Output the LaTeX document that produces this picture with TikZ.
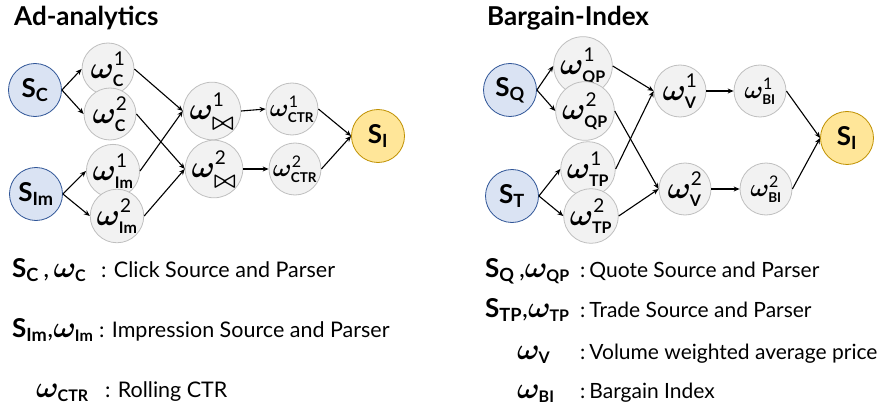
\RequirePackage{fix-cm}
\documentclass[tikz,border=0pt]{standalone}
\usepackage{amsmath}
\usepackage{amssymb}
\usepackage{bm}
\usepackage{fontspec}
\setmainfont{Lato}
\usetikzlibrary{arrows.meta, positioning}

\definecolor{srcfill}{HTML}{DAE3F3}
\definecolor{srcline}{HTML}{2F5597}
\definecolor{opfill}{HTML}{F2F2F2}
\definecolor{opline}{HTML}{BFBFBF}
\definecolor{sinkfill}{HTML}{FFE699}
\definecolor{sinkline}{HTML}{BF9000}

% node labels
\newcommand{\om}[2]{$\bm{\omega}^{\raisebox{2pt}{\fontsize{19}{19}\selectfont #1}}%
  _{\mbox{\fontsize{16}{16}\selectfont\bfseries #2}}$}
\newcommand{\oms}[2]{$\bm{\omega}^{\mbox{\fontsize{16}{16}\selectfont #1}}%
  _{\mbox{\fontsize{13.5}{14}\selectfont\bfseries #2}}$}
\newcommand{\sv}[1]{{\bfseries S}$_{\text{\bfseries #1}}$}
\newcommand{\ws}[1]{{\fontsize{30}{30}\selectfont
  $\bm{\omega}_{\mbox{\fontsize{16}{16}\selectfont\bfseries #1}}$}}
\newcommand{\btie}{\raisebox{-1.5pt}{\scalebox{1.45}{$\bm{\bowtie}$}}}

\begin{document}
\begin{tikzpicture}[x=1pt, y=-1pt,
  src/.style={circle, draw=srcline, fill=srcfill, line width=0.8pt, minimum size=53pt,
              inner sep=0pt, font=\fontsize{26}{30}\selectfont},
  op/.style={circle, draw=opline, fill=opfill, line width=0.8pt, minimum size=52pt,
             inner sep=0pt, font=\fontsize{31}{34}\selectfont},
  opsm/.style={op, font=\fontsize{25}{28}\selectfont},
  sink/.style={src, draw=sinkline, fill=sinkfill},
  arr/.style={-{Stealth[length=6pt, width=5pt]}, line width=1.1pt},
  ttl/.style={anchor=base west, inner sep=0pt, font=\fontsize{26}{30}\selectfont\bfseries},
  sym/.style={anchor=base west, inner sep=0pt, font=\fontsize{26}{30}\selectfont},
  desc/.style={anchor=base west, inner sep=0pt, font=\fontsize{21.5}{25}\selectfont},
  descr/.style={desc, font=\fontsize{21}{25}\selectfont}
]
\useasboundingbox (0,0) rectangle (883,409);

% Ad-analytics
\node[ttl] (tA) at (14,26) {Ad-analytics};
\node[src] (sC) at (35,90) {\sv{C}};
\node[src] (sIm) at (36,194) {\sv{Im}};
\node[op] (c1) at (108,69) {\om{1}{C}};
\node[op] (c2) at (110,114) {\om{2}{C}};
\node[op] (im1) at (113,171) {\om{1}{Im}};
\node[op] (im2) at (117,216) {\om{2}{Im}};
\node[op] (j1) at (212,111) {\om{1}{\btie}};
\node[op] (j2) at (214,169) {\om{2}{\btie}};
\node[opsm] (ctr1) at (292,109) {\oms{1}{CTR}};
\node[opsm] (ctr2) at (295,169) {\oms{2}{CTR}};
\node[sink] (sIA) at (378,136) {\sv{I}};

\foreach \a/\b in {sC/c1, sC/c2, sIm/im1, sIm/im2, c1/j1, im1/j1, c2/j2, im2/j2,
                   j1/ctr1, j2/ctr2, ctr1/sIA, ctr2/sIA}
  \draw[arr] (\a.east) -- (\b.west);

% Bargain-Index
\node[ttl] (tB) at (487,26) {Bargain-Index};
\node[src] (sQ) at (510,90) {\sv{Q}};
\node[src] (sT) at (512,196) {\sv{T}};
\node[op] (q1) at (583,66) {\om{1}{QP}};
\node[op] (q2) at (585,111) {\om{2}{QP}};
\node[op] (t1) at (588,169) {\om{1}{TP}};
\node[op] (t2) at (591,216) {\om{2}{TP}};
\node[op] (v1) at (680,91) {\om{1}{V}};
\node[op] (v2) at (685,189) {\om{2}{V}};
\node[opsm] (b1) at (760,91) {\oms{1}{BI}};
\node[opsm] (b2) at (766,189) {\oms{2}{BI}};
\node[sink] (sIB) at (847,138) {\sv{I}};

\foreach \a/\b in {sQ/q1, sQ/q2, sT/t1, sT/t2, q1/v1, t1/v1, q2/v2, t2/v2,
                   v1/b1, v2/b2, b1/sIB, b2/sIB}
  \draw[arr] (\a.east) -- (\b.west);

% legend
\node[sym] (kC) at (12,277) {\sv{C}\,,\,\ws{C}};
\node[desc] (dC) at (101,277) {: Click Source and Parser};
\node[sym] (kIm) at (12,337) {\sv{Im},\ws{Im}};
\node[desc] (dIm) at (99,337) {: Impression Source and Parser};
\node[sym] (kCTR) at (36,397) {\ws{CTR}};
\node[desc] (dCTR) at (105,397) {: Rolling CTR};

\node[sym] (kQ) at (485,277) {\sv{Q}\,,\ws{QP}};
\node[descr] (dQ) at (580,277) {:\hspace{4pt}Quote Source and Parser};
\node[sym] (kT) at (485,317) {\sv{TP},\ws{TP}};
\node[descr] (dT) at (580,317) {:\hspace{4pt}Trade Source and Parser};
\node[sym] (kV) at (517,359) {\ws{V}};
\node[descr] (dV) at (580,359) {:\hspace{4pt}Volume weighted average price};
\node[sym] (kB) at (517,398) {\ws{BI}};
\node[descr] (dB) at (580,398) {:\hspace{4pt}Bargain Index};
\end{tikzpicture}
\end{document}
